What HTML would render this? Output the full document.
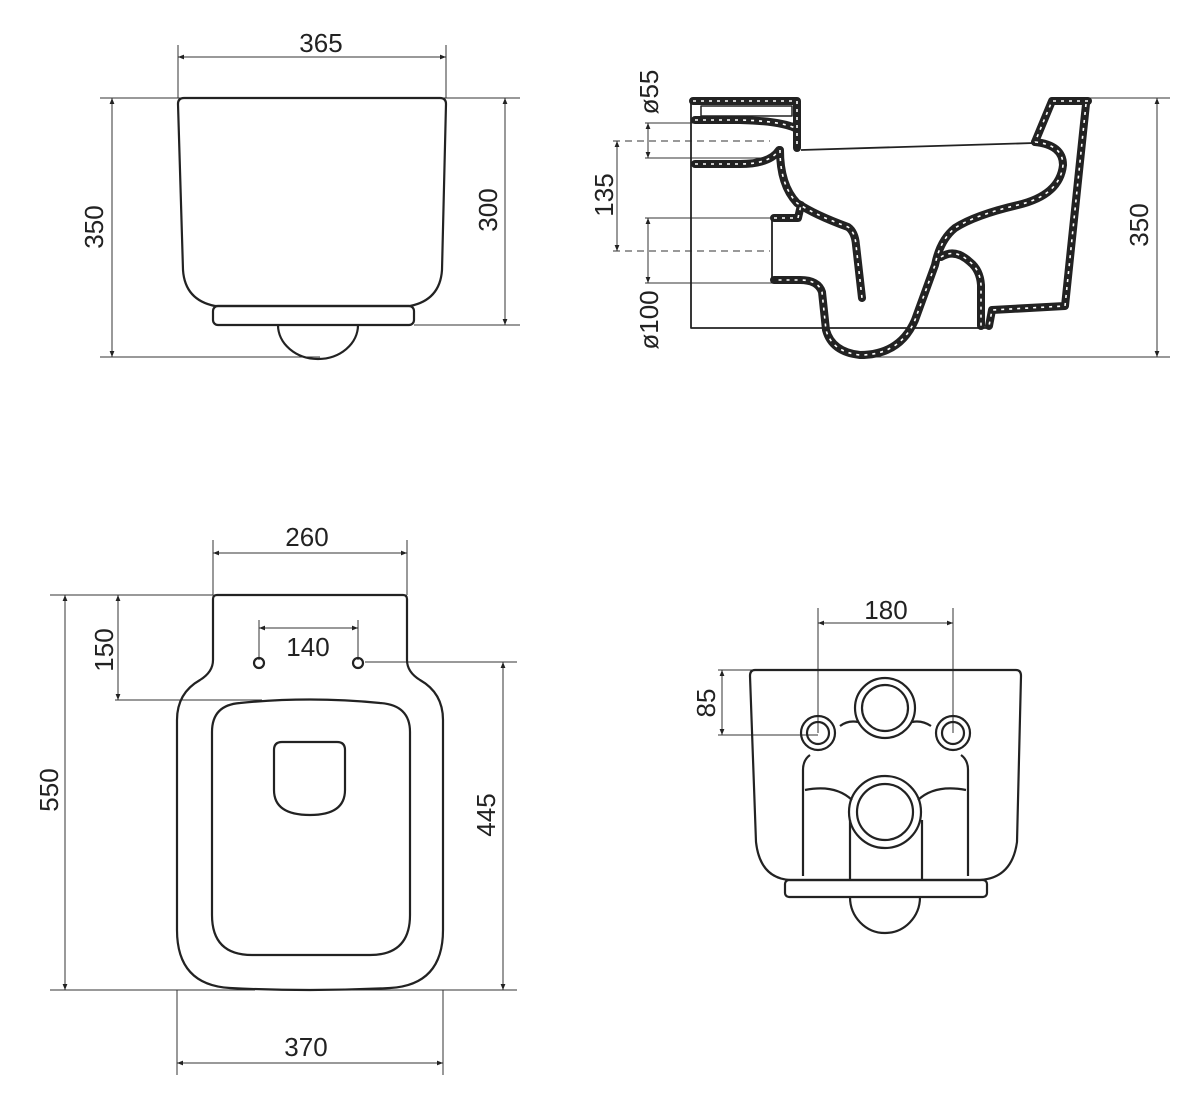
<!DOCTYPE html>
<html><head><meta charset="utf-8"><style>html,body{margin:0;padding:0;background:#fff}svg{display:block}text{font-family:"Liberation Sans",sans-serif;font-size:26px;fill:#222}</style></head>
<body>
<svg width="1200" height="1102" viewBox="0 0 1200 1102" xmlns="http://www.w3.org/2000/svg">
<defs>
<marker id="a" viewBox="0 0 10 10" refX="10" refY="5" markerWidth="12" markerHeight="6" orient="auto-start-reverse" markerUnits="userSpaceOnUse"><path d="M0,1 L10,5 L0,9" fill="#222"/></marker>
</defs>
<g fill="none" stroke="#333" stroke-width="1">
<!-- TOP LEFT dims -->
<line x1="178" y1="45" x2="178" y2="98"/><line x1="446" y1="45" x2="446" y2="98"/>
<line x1="178" y1="57" x2="446" y2="57" marker-start="url(#a)" marker-end="url(#a)"/>
<line x1="100" y1="98" x2="520" y2="98"/><line x1="100" y1="357" x2="320" y2="357"/>
<line x1="414" y1="325" x2="520" y2="325"/>
<line x1="112" y1="98" x2="112" y2="357" marker-start="url(#a)" marker-end="url(#a)"/>
<line x1="505" y1="98" x2="505" y2="325" marker-start="url(#a)" marker-end="url(#a)"/>
<!-- TOP RIGHT dims -->
<line x1="645" y1="123" x2="800" y2="123"/><line x1="645" y1="158" x2="772" y2="158"/>
<line x1="648" y1="123" x2="648" y2="158" marker-start="url(#a)" marker-end="url(#a)"/>
<line x1="613" y1="141" x2="770" y2="141" stroke-dasharray="7 5"/><line x1="613" y1="251" x2="770" y2="251" stroke-dasharray="7 5"/>
<line x1="617" y1="141" x2="617" y2="251" marker-start="url(#a)" marker-end="url(#a)"/>
<line x1="645" y1="218" x2="772" y2="218"/><line x1="645" y1="283" x2="772" y2="283"/>
<line x1="648" y1="218" x2="648" y2="283" marker-start="url(#a)" marker-end="url(#a)"/>
<line x1="1085" y1="98" x2="1170" y2="98"/><line x1="860" y1="357" x2="1170" y2="357"/>
<line x1="1157" y1="98" x2="1157" y2="357" marker-start="url(#a)" marker-end="url(#a)"/>
<!-- BOTTOM LEFT dims -->
<line x1="213" y1="540" x2="213" y2="595"/><line x1="407" y1="540" x2="407" y2="595"/>
<line x1="213" y1="553" x2="407" y2="553" marker-start="url(#a)" marker-end="url(#a)"/>
<line x1="259" y1="620" x2="259" y2="660"/><line x1="358" y1="620" x2="358" y2="660"/>
<line x1="259" y1="628" x2="358" y2="628" marker-start="url(#a)" marker-end="url(#a)"/>
<line x1="50" y1="595" x2="213" y2="595"/><line x1="115" y1="700" x2="262" y2="700"/>
<line x1="118" y1="595" x2="118" y2="700" marker-start="url(#a)" marker-end="url(#a)"/>
<line x1="50" y1="990" x2="255" y2="990"/>
<line x1="65" y1="595" x2="65" y2="990" marker-start="url(#a)" marker-end="url(#a)"/>
<line x1="365" y1="662" x2="517" y2="662"/><line x1="300" y1="990" x2="517" y2="990"/>
<line x1="503" y1="662" x2="503" y2="990" marker-start="url(#a)" marker-end="url(#a)"/>
<line x1="177" y1="990" x2="177" y2="1075"/><line x1="443" y1="990" x2="443" y2="1075"/>
<line x1="177" y1="1063" x2="443" y2="1063" marker-start="url(#a)" marker-end="url(#a)"/>
<!-- BOTTOM RIGHT dims -->
<line x1="818" y1="608" x2="818" y2="733"/><line x1="953" y1="608" x2="953" y2="733"/>
<line x1="818" y1="623" x2="953" y2="623" marker-start="url(#a)" marker-end="url(#a)"/>
<line x1="718" y1="670" x2="860" y2="670"/><line x1="718" y1="735" x2="818" y2="735"/>
<line x1="722" y1="670" x2="722" y2="735" marker-start="url(#a)" marker-end="url(#a)"/>
</g>

<g fill="none" stroke="#222" stroke-width="2.2" stroke-linejoin="round">
<!-- TOP LEFT front view -->
<path d="M184,98 L440,98 Q446,98 446,104 L442,270 Q440,300 410,306 L215,306 Q185,300 183,270 L178,104 Q178,98 184,98 Z"/>
<rect x="213" y="306" width="201" height="19" rx="5"/>
<path d="M278,325 A40,34 0 0 0 358,325"/>

<!-- BOTTOM LEFT plan -->
<path d="M217,595 L403,595 Q407,595 407,599 L407,660 Q407,672 420,680 Q443,693 443,720 L443,930 Q443,985 390,988 Q310,992 230,988 Q177,985 177,930 L177,720 Q177,693 200,680 Q213,672 213,660 L213,599 Q213,595 217,595 Z"/>
<path d="M240,703 Q310,696 380,703 Q410,705 410,732 L410,915 Q410,955 370,955 L252,955 Q212,955 212,915 L212,732 Q212,705 240,703 Z"/>
<path d="M282,742 L337,742 Q345,742 345,750 L345,790 Q345,815 310,815 Q274,815 274,790 L274,750 Q274,742 282,742 Z"/>
<circle cx="259" cy="663" r="5"/><circle cx="358" cy="663" r="5"/>

<!-- BOTTOM RIGHT rear -->
<path d="M755,670 L1016,670 Q1021,670 1021,676 L1017,842 Q1012,878 980,880 L790,880 Q760,878 756,842 L750,676 Q750,670 755,670 Z"/>
<rect x="785" y="880" width="202" height="17" rx="4"/>
<path d="M850,897 A35,36 0 0 0 920,897"/>
<circle cx="885" cy="708" r="30"/><circle cx="885" cy="708" r="23"/>
<circle cx="818" cy="733" r="17"/><circle cx="818" cy="733" r="11"/>
<circle cx="953" cy="733" r="17"/><circle cx="953" cy="733" r="11"/>
<circle cx="885" cy="812" r="36"/><circle cx="885" cy="812" r="28"/>
<path d="M840,726 Q848,720 858,722 M912,722 Q922,720 931,726"/>
<path d="M810,755 Q803,760 803,770 L803,876 M961,755 Q968,760 968,770 L968,876"/>
<path d="M805,790 Q835,784 852,800 M918,800 Q935,784 966,790"/>
<path d="M850,820 L850,880 M922,820 L922,880"/>

<!-- TOP RIGHT section thin lines -->
<path d="M691,98 L691,328 L989,328" stroke-width="1.8"/>
<path d="M772,218 L772,283" stroke-width="1.8"/>
<path d="M801,150 L1034,143" stroke-width="1.8"/>
</g>

<!-- hatched walls -->
<g fill="none" stroke-linejoin="round" stroke-linecap="round">
<g stroke="#222" stroke-width="8">
<path id="w1" d="M693,101 L797,101 L797,148"/>
<path d="M695,120 L740,120 Q780,121 795,128"/>
<path d="M695,164 L740,164 Q770,164 779,150"/>
<path d="M1088,101 L1052,101 L1035,142"/>
<path d="M1086,104 L1065,306 L992,310 L989,326"/>
<path d="M1035,142 Q1063,145 1063,165 Q1060,195 1018,205 Q975,215 955,228 Q940,240 935,265 L915,320 Q900,355 860,355 Q832,352 826,330 L822,292 Q818,280 800,280 L774,280"/>
<path d="M780,150 Q780,185 797,203 Q815,215 848,227 Q855,232 856,245 L862,298"/>
<path d="M774,218 L798,218 L801,205"/>
<path d="M941,257 Q955,248 970,262 Q980,270 981,285 L981,326"/>
</g>
<g stroke="#fff" stroke-width="1.6" stroke-dasharray="3 5" stroke-linecap="butt">
<path d="M693,101 L797,101 L797,148"/>
<path d="M695,120 L740,120 Q780,121 795,128"/>
<path d="M695,164 L740,164 Q770,164 779,150"/>
<path d="M1088,101 L1052,101 L1035,142"/>
<path d="M1086,104 L1065,306 L992,310 L989,326"/>
<path d="M1035,142 Q1063,145 1063,165 Q1060,195 1018,205 Q975,215 955,228 Q940,240 935,265 L915,320 Q900,355 860,355 Q832,352 826,330 L822,292 Q818,280 800,280 L774,280"/>
<path d="M780,150 Q780,185 797,203 Q815,215 848,227 Q855,232 856,245 L862,298"/>
<path d="M774,218 L798,218 L801,205"/>
<path d="M941,257 Q955,248 970,262 Q980,270 981,285 L981,326"/>
</g>
<rect x="701" y="106" width="91" height="10" fill="#fff" stroke="#222" stroke-width="1.5"/>
</g>

<!-- labels -->
<text x="321" y="52" text-anchor="middle">365</text>
<text transform="translate(103,227) rotate(-90)" text-anchor="middle">350</text>
<text transform="translate(497,210) rotate(-90)" text-anchor="middle">300</text>
<text transform="translate(658,92) rotate(-90)" text-anchor="middle">ø55</text>
<text transform="translate(613,195) rotate(-90)" text-anchor="middle">135</text>
<text transform="translate(658,320) rotate(-90)" text-anchor="middle">ø100</text>
<text transform="translate(1148,225) rotate(-90)" text-anchor="middle">350</text>
<text x="307" y="546" text-anchor="middle">260</text>
<text x="308" y="656" text-anchor="middle">140</text>
<text transform="translate(113,650) rotate(-90)" text-anchor="middle">150</text>
<text transform="translate(58,790) rotate(-90)" text-anchor="middle">550</text>
<text transform="translate(495,815) rotate(-90)" text-anchor="middle">445</text>
<text x="306" y="1056" text-anchor="middle">370</text>
<text x="886" y="619" text-anchor="middle">180</text>
<text transform="translate(715,703) rotate(-90)" text-anchor="middle">85</text>
</svg>
</body></html>
